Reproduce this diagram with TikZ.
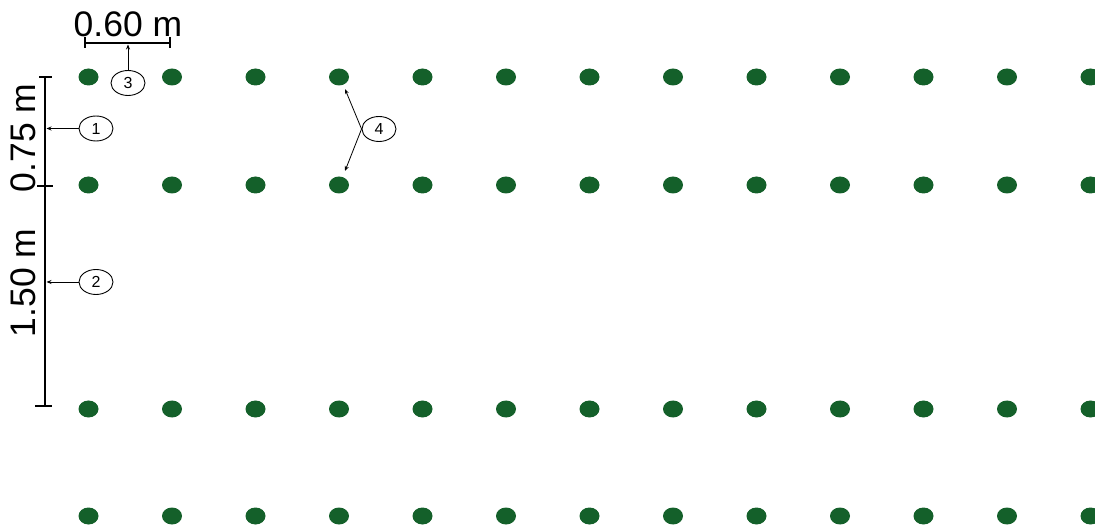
\documentclass[tikz,border=0pt]{standalone}
\usepackage{fontspec}
\setmainfont{Liberation Sans}
\usetikzlibrary{arrows.meta,shapes.geometric}
\definecolor{dotgreen}{RGB}{20,96,42}
\tikzset{
  plant/.style={fill=dotgreen, draw=none, ellipse, minimum width=20pt, minimum height=17pt, inner sep=0pt},
  scalebar/.style={line width=1.8pt},
  callout/.style={draw, line width=0.9pt, ellipse, minimum width=34pt, minimum height=25pt, inner sep=0pt, font=\fontsize{16}{16}\selectfont},
  pointer/.style={line width=0.8pt, -{Stealth[length=5pt,width=4pt]}},
  dimtext/.style={inner sep=0pt, font=\fontsize{35.5}{35.5}\selectfont}
}
\begin{document}
\begin{tikzpicture}[x=1pt,y=-1pt]
\useasboundingbox (0,0) rectangle (1095,526);
\clip (0,0) rectangle (1095,526);
% plants
\foreach \r/\yy in {1/77,2/185,3/409,4/516}{
  \foreach \c in {0,...,12}{
    \node[plant] (p\r-\c) at ({88.5+83.5*\c},\yy) {};
  }
}
% vertical scale bar
\coordinate (vt) at (45,77);
\coordinate (vm) at (45,186);
\coordinate (vb) at (45,406);
\draw[scalebar] (vt) -- (vb);
\draw[scalebar] (39,77) -- (52,77);
\draw[scalebar] (37,186) -- (53,186);
\draw[scalebar] (35,406) -- (52,406);
\node[dimtext, rotate=90] (d075) at (23.5,138) {0.75 m};
\node[dimtext, rotate=90] (d150) at (23.5,283) {1.50 m};
% horizontal scale bar
\coordinate (hl) at (85,43);
\coordinate (hr) at (170,43);
\draw[scalebar] (hl) -- (hr);
\draw[scalebar] (85,37) -- (85,48);
\draw[scalebar] (170,37) -- (170,48);
\node[dimtext] (d060) at (128,24) {0.60 m};
% callouts
\node[callout] (c1) at (96,128.5) {1};
\node[callout] (c2) at (96,282) {2};
\node[callout] (c3) at (128,83) {3};
\node[callout] (c4) at (379,129) {4};
\coordinate (a1) at (46.5,128.5);
\coordinate (a2) at (46.5,282);
\coordinate (a3) at (128,44.5);
\coordinate (a4u) at (345,89);
\coordinate (a4d) at (345,171);
\draw[pointer] (c1.west) -- (a1);
\draw[pointer] (c2.west) -- (a2);
\draw[pointer] (c3.north) -- (a3);
\draw[pointer] (c4.west) -- (a4u);
\draw[pointer] (c4.west) -- (a4d);
\end{tikzpicture}
\end{document}
